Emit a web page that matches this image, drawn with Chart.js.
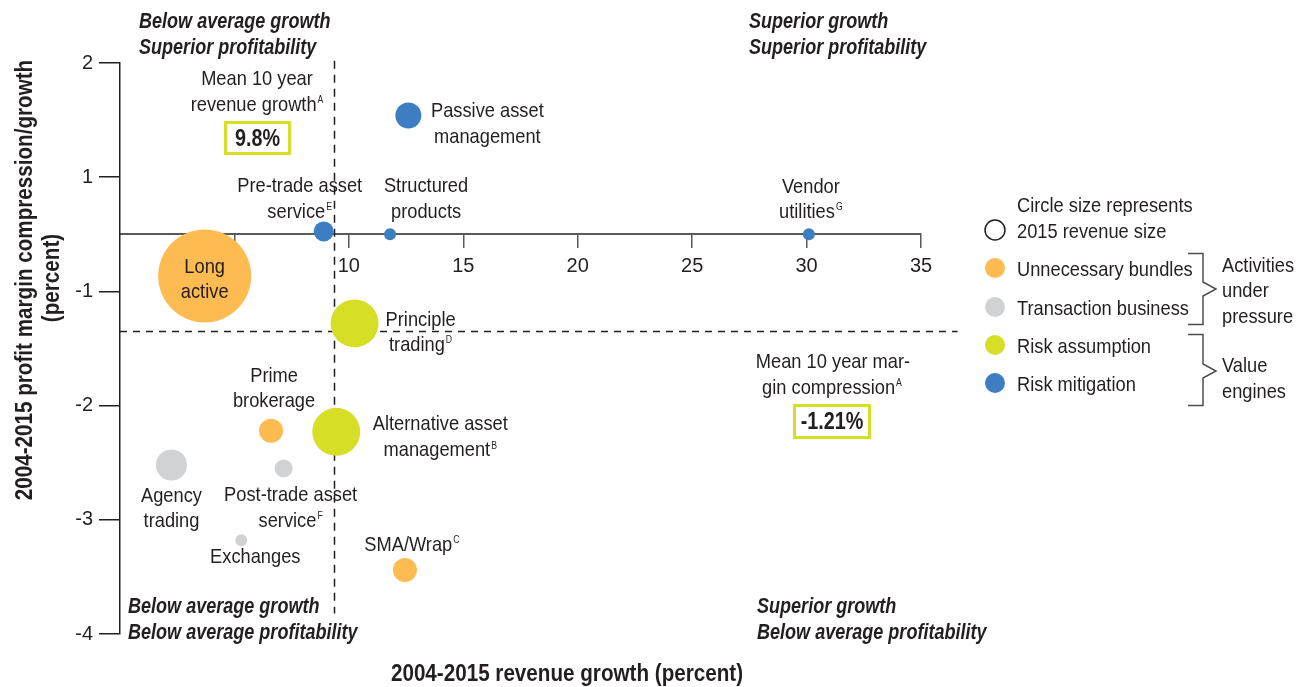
<!DOCTYPE html>
<html><head><meta charset="utf-8">
<script src="https://cdn.jsdelivr.net/npm/chart.js@4"></script>
<style>html,body{margin:0;padding:0;background:#fff;overflow:hidden}#wrap{width:1310px;height:687px;position:relative}</style>
</head><body><div id="wrap"><canvas id="c" width="1310" height="687"></canvas></div>
<script>
// ---------- data ----------
const categories = ['Unnecessary bundles', 'Transaction business', 'Risk assumption', 'Risk mitigation'];
const categoryColors = ['#fdbb51', '#d1d2d4', '#d6df26', '#3c7dc4'];
const activities = ['Passive asset management', 'Pre-trade asset service', 'Structured products', 'Vendor utilities',
  'Long active', 'Principle trading', 'Prime brokerage', 'Alternative asset management',
  'Agency trading', 'Post-trade asset service', 'Exchanges', 'SMA/Wrap'];
const activityCategory = [3, 3, 3, 3, 0, 2, 0, 2, 1, 1, 1, 0];
const revenueGrowth = [12.6, 8.9, 11.8, 30.1, 3.7, 10.25, 6.6, 9.45, 2.25, 7.15, 5.3, 12.45];
const marginChange = [1.54, 0.05, 0, 0, -0.73, -1.28, -2.22, -2.23, -2.52, -2.55, -3.18, -3.44];
const revenueSize = [13, 10, 6, 6, 46.5, 24, 12, 24, 15.5, 9, 6, 12];
const xTickValues = [10, 15, 20, 25, 30, 35];
const yTickValues = [2, 1, -1, -2, -3, -4];
const meanRevenueGrowthLine = 9.35;
const meanMarginLine = -1.35;
const meanRevenueGrowthText = '9.8%';
const meanMarginText = '-1.21%';

// ---------- label text (lines: [text, superscript]) ----------
const bubbleLabels = [
  [['Passive asset', ''], ['management', '']],
  [['Pre-trade asset', ''], ['service', 'E']],
  [['Structured', ''], ['products', '']],
  [['Vendor', ''], ['utilities', 'G']],
  [['Long', ''], ['active', '']],
  [['Principle', ''], ['trading', 'D']],
  [['Prime', ''], ['brokerage', '']],
  [['Alternative asset', ''], ['management', 'B']],
  [['Agency', ''], ['trading', '']],
  [['Post-trade asset', ''], ['service', 'F']],
  [['Exchanges', '']],
  [['SMA/Wrap', 'C']]
];
// label placement relative to bubble centre (px)
const labelPlacement = [
  {dx: 79, dy: [-6, 20]}, {dx: -24, dy: [-47, -21]}, {dx: 36, dy: [-50, -24]}, {dx: 2, dy: [-49, -24]},
  {dx: 0, dy: [-11, 14]}, {dx: 66, dy: [-5, 20]}, {dx: 3, dy: [-56, -31]}, {dx: 104, dy: [-9, 17]},
  {dx: 0, dy: [29, 54]}, {dx: 7, dy: [25, 51]}, {dx: 14, dy: [15]}, {dx: 7, dy: [-27]}
];

const FONT = '"Liberation Sans", Arial, sans-serif';
const TXT = '#231f20';
const REG = {size: 21, weight: 'normal', style: 'normal', k: 0.87};
const BIT = {size: 22, weight: 'bold', style: 'italic', k: 0.82};
const BOX = {size: 23, weight: 'bold', style: 'normal', k: 0.86};
const TTL = {size: 24, weight: 'bold', style: 'normal', k: 0.86};

// y axis: the value 0 sits midway between tick 1 and tick -1
function toPos(v) { return v >= 1 ? v : (v <= -1 ? v + 1 : (v + 1) / 2); }
function fromPos(p) { return p >= 1 ? p : (p <= 0 ? p - 1 : 2 * p - 1); }

const datasets = categories.map((name, ci) => ({
  label: name,
  backgroundColor: categoryColors[ci],
  borderWidth: 0,
  hoverBorderWidth: 0,
  clip: false,
  data: activities.map((a, i) => ({x: revenueGrowth[i], y: toPos(marginChange[i]), r: revenueSize[i], idx: i}))
    .filter((d) => activityCategory[d.idx] === ci)
}));

function fontStr(s, size) { return s.style + ' ' + s.weight + ' ' + (size || s.size) + 'px ' + FONT; }

// y is the visual centre of the capitals
function drawLine(ctx, x, y, text, sup, align, s) {
  const k = s.k;
  ctx.font = fontStr(s);
  const w = ctx.measureText(text).width * k;
  const supSize = Math.round(s.size * 0.47);
  ctx.font = fontStr({style: 'normal', weight: 'normal'}, supSize);
  const ws = sup ? ctx.measureText(sup).width * k + 1 : 0;
  let sx = x;
  if (align === 'center') sx = x - (w + ws) / 2;
  else if (align === 'right') sx = x - w - ws;
  const base = y + s.size * 0.358;
  ctx.textAlign = 'left';
  ctx.textBaseline = 'alphabetic';
  ctx.save();
  ctx.translate(sx, base); ctx.scale(k, 1);
  ctx.font = fontStr(s);
  ctx.fillText(text, 0, 0);
  ctx.restore();
  if (sup) {
    ctx.save();
    ctx.translate(sx + w + 1, base - s.size * 0.36); ctx.scale(k, 1);
    ctx.font = fontStr({style: 'normal', weight: 'normal'}, supSize);
    ctx.fillText(sup, 0, 0);
    ctx.restore();
  }
}

const decor = {
  id: 'decor',
  beforeDatasetsDraw(chart) {
    const ctx = chart.ctx, xs = chart.scales.x, ys = chart.scales.y;
    ctx.save();
    ctx.strokeStyle = '#231f20';
    ctx.lineWidth = 1.5;
    ctx.setLineDash([8, 6]);
    const vx = Math.round(xs.getPixelForValue(meanRevenueGrowthLine)) + 0.5;
    ctx.beginPath(); ctx.moveTo(vx, ys.getPixelForValue(toPos(2.02))); ctx.lineTo(vx, ys.getPixelForValue(toPos(-3.82))); ctx.stroke();
    ctx.setLineDash([7, 6]);
    const hy = Math.round(ys.getPixelForValue(toPos(meanMarginLine))) + 0.5;
    ctx.beginPath(); ctx.moveTo(xs.getPixelForValue(0), hy); ctx.lineTo(xs.getPixelForValue(36.6), hy); ctx.stroke();
    ctx.restore();
  },
  afterDraw(chart) {
    const ctx = chart.ctx, xs = chart.scales.x, ys = chart.scales.y;
    ctx.save();
    ctx.fillStyle = TXT;
    activities.forEach((a, i) => {
      const px = xs.getPixelForValue(revenueGrowth[i]);
      const py = ys.getPixelForValue(toPos(marginChange[i]));
      const pl = labelPlacement[i];
      bubbleLabels[i].forEach((ln, k) => drawLine(ctx, px + pl.dx, py + pl.dy[k], ln[0], ln[1], 'center', REG));
    });
    [[139, 20, 'Below average growth'], [139, 46, 'Superior profitability'],
     [749, 20, 'Superior growth'], [749, 46, 'Superior profitability'],
     [128, 605, 'Below average growth'], [128, 631, 'Below average profitability'],
     [757, 605, 'Superior growth'], [757, 631, 'Below average profitability']]
      .forEach(q => drawLine(ctx, q[0], q[1], q[2], '', 'left', BIT));
    drawLine(ctx, 257, 77, 'Mean 10 year', '', 'center', REG);
    drawLine(ctx, 257, 103, 'revenue growth', 'A', 'center', REG);
    drawLine(ctx, 833, 360, 'Mean 10 year mar-', '', 'center', REG);
    drawLine(ctx, 832, 386, 'gin compression', 'A', 'center', REG);
    ctx.strokeStyle = '#d6df26';
    ctx.lineWidth = 3;
    ctx.strokeRect(225.5, 122.5, 64, 31);
    ctx.strokeRect(794.5, 405.5, 75, 32);
    drawLine(ctx, 257.5, 138, meanRevenueGrowthText, '', 'center', BOX);
    drawLine(ctx, 832, 421, meanMarginText, '', 'center', BOX);
    drawLine(ctx, 567, 672, '2004-2015 revenue growth (percent)', '', 'center', TTL);
    ctx.save();
    ctx.translate(23, 280); ctx.rotate(-Math.PI / 2);
    drawLine(ctx, 0, 0, '2004-2015 profit margin compression/growth', '', 'center', TTL);
    ctx.restore();
    ctx.save();
    ctx.translate(50, 278); ctx.rotate(-Math.PI / 2);
    drawLine(ctx, 0, 0, '(percent)', '', 'center', TTL);
    ctx.restore();
    // legend
    ctx.lineWidth = 1.5; ctx.strokeStyle = TXT;
    ctx.beginPath(); ctx.arc(995, 230, 10, 0, Math.PI * 2); ctx.stroke();
    drawLine(ctx, 1017, 204, 'Circle size represents', '', 'left', REG);
    drawLine(ctx, 1017, 230, '2015 revenue size', '', 'left', REG);
    const ly = [268, 307, 345, 383];
    categories.forEach((c, ci) => {
      ctx.fillStyle = categoryColors[ci];
      ctx.beginPath(); ctx.arc(995, ly[ci], 10, 0, Math.PI * 2); ctx.fill();
      ctx.fillStyle = TXT;
      drawLine(ctx, 1017, ly[ci], c, '', 'left', REG);
    });
    ctx.strokeStyle = '#4d4d4f'; ctx.lineWidth = 1.5;
    const bracket = (t, m, b) => {
      ctx.beginPath();
      ctx.moveTo(1188, t); ctx.lineTo(1203, t); ctx.lineTo(1203, m - 7); ctx.lineTo(1216, m); ctx.lineTo(1203, m + 7);
      ctx.lineTo(1203, b); ctx.lineTo(1188, b); ctx.stroke();
    };
    bracket(253.5, 289, 324.5);
    bracket(334.5, 371, 405.5);
    drawLine(ctx, 1222, 264, 'Activities', '', 'left', REG);
    drawLine(ctx, 1222, 289, 'under', '', 'left', REG);
    drawLine(ctx, 1222, 315, 'pressure', '', 'left', REG);
    drawLine(ctx, 1222, 364, 'Value', '', 'left', REG);
    drawLine(ctx, 1222, 390, 'engines', '', 'left', REG);
    ctx.restore();
  }
};

new Chart(document.getElementById('c'), {
  type: 'bubble',
  data: {datasets},
  options: {
    responsive: false,
    animation: false,
    events: [],
    layout: {padding: {left: 60, right: 389, top: 63, bottom: 53}},
    plugins: {legend: {display: false}, tooltip: {enabled: false}},
    scales: {
      x: {
        type: 'linear', min: 0, max: 35,
        position: {y: toPos(0)},
        afterFit(s) { s.height = 0; },
        afterBuildTicks(s) { s.ticks = [0, 5].concat(xTickValues).map(v => ({value: v})); },
        ticks: {
          callback: (v) => xTickValues.includes(v) ? String(v) : '',
          color: TXT, font: {family: FONT, size: 20}, padding: 7, maxRotation: 0, autoSkip: false
        },
        grid: {drawOnChartArea: false, drawTicks: true, tickLength: 13,
          color: (c) => c.tick && c.tick.value === 0 ? 'rgba(0,0,0,0)' : '#58595b', lineWidth: 1.5},
        border: {display: true, color: '#58595b', width: 2}
      },
      y: {
        type: 'linear', min: toPos(-4), max: toPos(2),
        afterFit(s) { s.width = 60; },
        afterBuildTicks(s) { s.ticks = yTickValues.map(v => ({value: toPos(v)})); },
        ticks: {
          callback: (v) => String(fromPos(v)),
          color: TXT, font: {family: FONT, size: 20}, padding: 6, autoSkip: false
        },
        grid: {drawOnChartArea: false, drawTicks: true, tickLength: 21, color: '#231f20', lineWidth: 1.5},
        border: {display: true, color: '#231f20', width: 1.5}
      }
    }
  },
  plugins: [decor]
});
</script></body></html>
